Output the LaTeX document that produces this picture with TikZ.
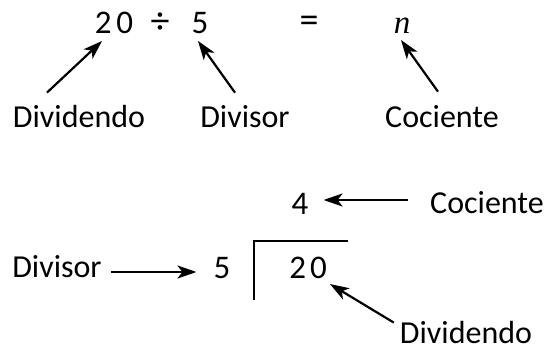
\documentclass[tikz,border=0pt]{standalone}
\usepackage{fontspec}
\setmainfont{Carlito}
\newfontfamily\varfont{Liberation Serif}
\usepackage{tikz}
\usetikzlibrary{arrows.meta, positioning}
\tikzset{
  lbltext/.style={inner sep=0pt, font=\fontsize{32}{34}\selectfont},
  numtext/.style={inner sep=0pt, font=\fontsize{33}{35}\selectfont},
  optext/.style={inner sep=0pt, font=\fontsize{38}{40}\selectfont},
  vartext/.style={inner sep=0pt, font=\varfont\itshape\fontsize{33}{35}\selectfont},
  arrow/.style={-{Stealth[length=19pt, width=13pt, inset=5pt]}, line width=2.2pt, black},
  bracket/.style={line width=2.2pt, black}
}

\begin{document}
\begin{tikzpicture}[x=1pt, y=-1pt]
  \useasboundingbox (0,0) rectangle (544,352);
  % division written in a row
  \node[numtext] (t20) at (114,23) {2\kern5pt0};
  \node[optext]  (tdiv) at (160,23) {÷};
  \node[numtext] (t5)  at (200,23) {5};
  \node[optext]  (teq) at (309,24) {=};
  \node[vartext] (tn)  at (402,26) {n};
  \node[lbltext] (lDvd) at (79,117)  {Dividendo};
  \node[lbltext] (lDvs) at (245,117) {Divisor};
  \node[lbltext] (lCoc) at (442,117) {Cociente};
  \draw[arrow] ([xshift=-32pt,yshift=13pt]lDvd.north) -- ([xshift=-12pt,yshift=-7pt]t20.south);
  \draw[arrow] ([xshift=-10pt,yshift=13pt]lDvs.north) -- ([xshift=-2pt,yshift=-7pt]t5.south);
  \draw[arrow] ([xshift=-4pt,yshift=14pt]lCoc.north)  -- ([xshift=-1pt,yshift=-6pt]tn.south);
  % long division layout
  \node[numtext] (q4)  at (300,204) {4};
  \node[numtext] (d5)  at (222,268) {5};
  \node[numtext] (d20) at (308,268) {2\kern4pt0};
  \node[lbltext] (lCoc2) at (487,203) {Cociente};
  \node[lbltext] (lDvs2) at (57,267)  {Divisor};
  \node[lbltext] (lDvd2) at (466,333) {Dividendo};
  \draw[bracket] (254,300) -- (254,241) -- (348,241);
  \draw[arrow] ([xshift=-6pt,yshift=-1pt]lDvd2.north west) -- ([xshift=3pt,yshift=-5pt]d20.south east);
  \draw[arrow] ([xshift=-22pt,yshift=3pt]lCoc2.west) -- ([xshift=15pt,yshift=4pt]q4.east);
  \draw[arrow] ([xshift=9pt,yshift=-5pt]lDvs2.east) -- ([xshift=-17pt,yshift=-4pt]d5.west);
\end{tikzpicture}
\end{document}
